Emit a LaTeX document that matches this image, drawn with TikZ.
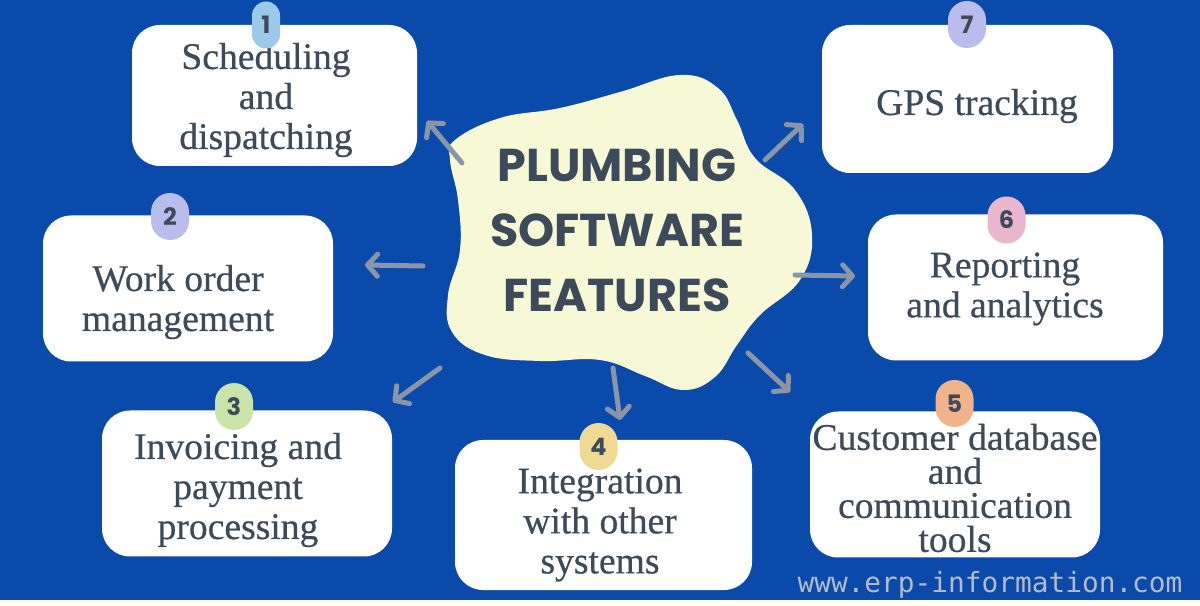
\documentclass[tikz,border=0pt]{standalone}
\usepackage{fontspec}
\setmainfont{Liberation Serif}[FakeBold=0.5]
\newfontfamily\headfont{Poppins}
\newfontfamily\urlfont{DejaVu Sans Mono}
\usepackage{xcolor}
\usepackage{tikz}
\usetikzlibrary{arrows.meta, positioning}

\definecolor{bgblue}{HTML}{0A4AAA}
\definecolor{blobcream}{HTML}{F6F8D6}
\definecolor{inkgray}{HTML}{3C4A5A}
\definecolor{arrowgray}{HTML}{8A96A8}
\definecolor{badgeblue}{HTML}{9DC9E9}
\definecolor{badgelilac}{HTML}{BABDEC}
\definecolor{badgegreen}{HTML}{C9E3A9}
\definecolor{badgeyellow}{HTML}{EFD994}
\definecolor{badgepeach}{HTML}{F1B38A}
\definecolor{badgepink}{HTML}{E9B6CD}
\definecolor{urlgray}{HTML}{B3BBCA}

\begin{document}
\begin{tikzpicture}[
    x=0.5pt, y=-0.5pt,
    feature/.style={rectangle, rounded corners=14pt, fill=white, minimum width=145pt, minimum height=73pt, inner sep=0pt},
    featuretext/.style={align=center, text=inkgray, font=\fontsize{18.8}{20}\selectfont},
    badge/.style={rectangle, rounded corners=9.5pt, minimum width=19pt, minimum height=23.5pt, inner sep=0pt, text=inkgray, font=\headfont\bfseries\fontsize{12}{12}\selectfont},
    title/.style={align=center, text=inkgray, font=\headfont\bfseries\fontsize{23}{32.5}\selectfont},
    line/.style={draw=arrowgray, line width=2.5pt, line cap=round, -{Straight Barb[length=5pt, width=11pt, round]}}
]
    % Background and central blob
    \fill[bgblue] (0,0) rectangle (1200,600);
    \fill[blobcream] plot[smooth cycle, tension=0.7] coordinates {
        (455,140) (500,118) (560,108) (620,92) (680,75) (718,88) (737,120)
        (755,158) (795,190) (812,235) (800,280) (760,315) (737,345) (715,377)
        (683,390) (645,376) (600,360) (540,361) (485,355) (452,332) (448,295)
        (460,250) (458,200) (450,160)};
    \node[title] (hub) at (617,230) {PLUMBING\\SOFTWARE\\FEATURES};

    % Feature boxes
    \node[feature, minimum width=142.5pt, minimum height=70.5pt] (sched) at (274.5,95.5) {};
    \node[feature] (workorder) at (188,288.5) {};
    \node[feature] (invoice) at (247,483.5) {};
    \node[feature, minimum width=148.5pt, minimum height=75pt] (integ) at (603.5,515) {};
    \node[feature] (customer) at (955,484.5) {};
    \node[feature, minimum width=147.5pt] (report) at (1015.5,287.5) {};
    \node[feature, minimum width=145.5pt, minimum height=74pt] (gps) at (967.5,99) {};

    % Box texts
    \node[featuretext] (sched_t) at (266,100) {Scheduling\\and\\dispatching};
    \node[featuretext] (workorder_t) at (178,302) {Work order\\management};
    \node[featuretext] (invoice_t) at (238,490) {Invoicing and\\payment\\processing};
    \node[featuretext] (integ_t) at (600,525) {Integration\\with other\\systems};
    \node[featuretext, font=\fontsize{18.8}{17}\selectfont] (customer_t) at (955,488) {Customer database\\and\\communication\\tools};
    \node[featuretext] (report_t) at (1005,289) {Reporting\\and analytics};
    \node[featuretext] (gps_t) at (977,106) {GPS tracking};

    % Number badges
    \node[badge, fill=badgeblue, minimum width=14pt, rounded corners=7pt] (b1) at (266,25) {1};
    \node[badge, fill=badgelilac] (b2) at (170,216.5) {2};
    \node[badge, fill=badgegreen] (b3) at (234,406.5) {3};
    \node[badge, fill=badgeyellow] (b4) at (598.5,446.5) {4};
    \node[badge, fill=badgepeach] (b5) at (954.5,403.5) {5};
    \node[badge, fill=badgepink] (b6) at (1006.5,220) {6};
    \node[badge, fill=badgelilac] (b7) at (967,24.5) {7};

    % Arrow ends
    \coordinate (a1s) at (462,163); \coordinate (a1e) at (427,121);
    \coordinate (a2s) at (423,266); \coordinate (a2e) at (365,265);
    \coordinate (a3s) at (440,368); \coordinate (a3e) at (393,402);
    \coordinate (a4s) at (613,368); \coordinate (a4e) at (620,420);
    \coordinate (a5s) at (748,353); \coordinate (a5e) at (790,392);
    \coordinate (a6s) at (795,275); \coordinate (a6e) at (855,276);
    \coordinate (a7s) at (765,160); \coordinate (a7e) at (803,124);

    % Connectors
    \draw[line] (a1s) -- (a1e);
    \draw[line] (a2s) -- (a2e);
    \draw[line] (a3s) -- (a3e);
    \draw[line] (a4s) -- (a4e);
    \draw[line] (a5s) -- (a5e);
    \draw[line] (a6s) -- (a6e);
    \draw[line] (a7s) -- (a7e);

    \node[font=\urlfont\fontsize{13.9}{14}\selectfont, text=urlgray, anchor=base] (site) at (990,593) {www.erp-information.com};
\end{tikzpicture}
\end{document}
